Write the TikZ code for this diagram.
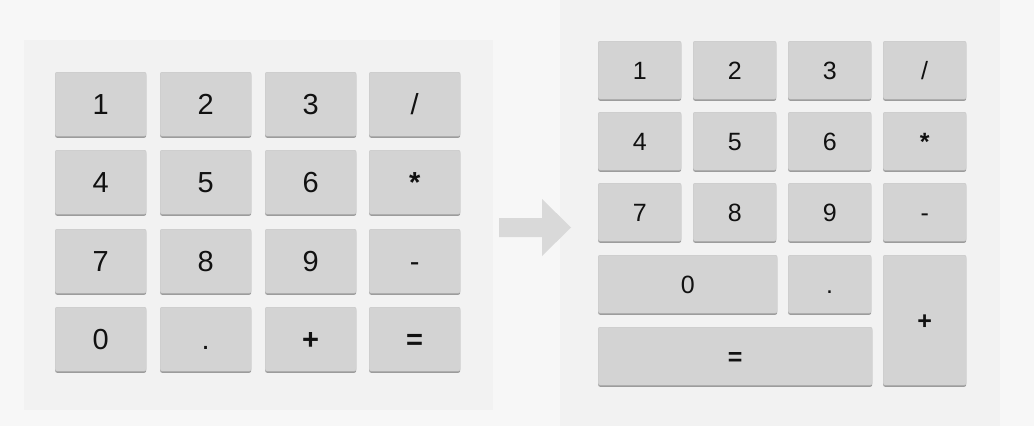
\documentclass[tikz,border=0pt]{standalone}
\usepackage{fontspec}
\setmainfont{Liberation Sans}
\usetikzlibrary{shadows}
\definecolor{bgout}{HTML}{F7F7F7}
\definecolor{panel}{HTML}{F2F2F2}
\definecolor{btnfill}{HTML}{D3D3D3}
\definecolor{btnedge}{HTML}{C6C6C6}
\definecolor{btnshadow}{HTML}{9C9C9C}
\definecolor{arrowc}{HTML}{D9D9D9}
\definecolor{txt}{HTML}{111111}
\tikzset{
  key/.style={fill=btnfill, draw=btnedge, line width=0.4pt, rounded corners=2pt,
    anchor=north west, inner sep=0pt, text=txt, text depth=0pt,
    drop shadow={shadow xshift=0pt, shadow yshift=-1.6pt, fill=btnshadow, opacity=1}},
  keyL/.style={key, minimum width=91pt, minimum height=64pt, text height=21pt, font=\fontsize{29}{30}\selectfont},
  keyR/.style={key, minimum width=83pt, minimum height=58pt, text height=18pt, font=\fontsize{25}{26}\selectfont},
}
\begin{document}
\begin{tikzpicture}[x=1pt,y=-1pt]
\useasboundingbox (0,0) rectangle (1034,426);
\fill[bgout] (0,0) rectangle (1034,426);
% panels
\fill[panel] (24,40) rectangle (493,410);
\fill[panel] (560,0) rectangle (1000,426);
% left keypad
\node[keyL] (L1) at (55,72) {1};
\node[keyL] (L2) at (160,72) {2};
\node[keyL] (L3) at (265,72) {3};
\node[keyL] (Ldiv) at (369,72) {/};
\node[keyL] (L4) at (55,150) {4};
\node[keyL] (L5) at (160,150) {5};
\node[keyL] (L6) at (265,150) {6};
\node[keyL] (Lmul) at (369,150) {\bfseries *};
\node[keyL] (L7) at (55,229) {7};
\node[keyL] (L8) at (160,229) {8};
\node[keyL] (L9) at (265,229) {9};
\node[keyL] (Lsub) at (369,229) {-};
\node[keyL] (L0) at (55,307) {0};
\node[keyL] (Ldot) at (160,307) {.};
\node[keyL] (Ladd) at (265,307) {\bfseries +};
\node[keyL] (Leq) at (369,307) {\bfseries =};
% arrow
\fill[arrowc] (499,218) -- (542,218) -- (542,199) -- (571,227.5) -- (542,256) -- (542,237) -- (499,237) -- cycle;
% right keypad
\node[keyR] (R1) at (598,41) {1};
\node[keyR] (R2) at (693,41) {2};
\node[keyR] (R3) at (788,41) {3};
\node[keyR] (Rdiv) at (883,41) {/};
\node[keyR] (R4) at (598,112) {4};
\node[keyR] (R5) at (693,112) {5};
\node[keyR] (R6) at (788,112) {6};
\node[keyR] (Rmul) at (883,112) {\bfseries *};
\node[keyR] (R7) at (598,183) {7};
\node[keyR] (R8) at (693,183) {8};
\node[keyR] (R9) at (788,183) {9};
\node[keyR] (Rsub) at (883,183) {-};
\node[keyR, minimum width=179pt] (R0) at (598,255) {0};
\node[keyR] (Rdot) at (788,255) {.};
\node[keyR, minimum height=130pt] (Radd) at (883,255) {\bfseries +};
\node[keyR, minimum width=274pt] (Req) at (598,327) {\bfseries =};
\end{tikzpicture}
\end{document}
